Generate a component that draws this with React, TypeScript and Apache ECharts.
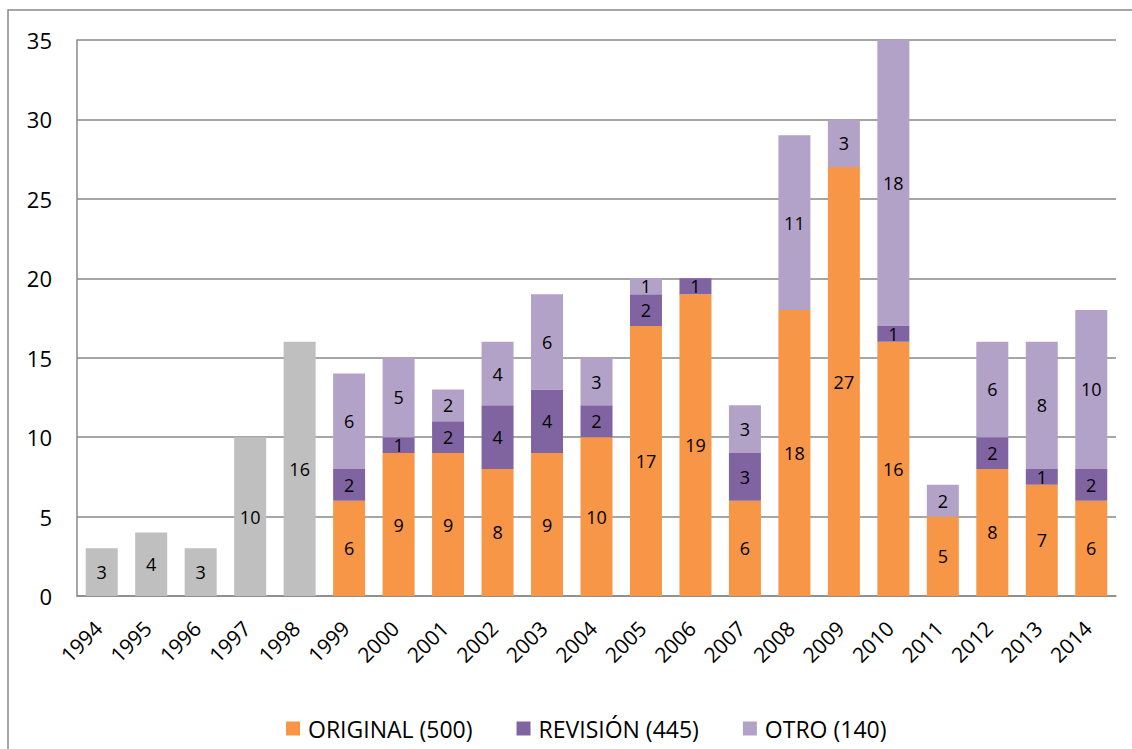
import React, { useEffect, useRef } from "react";
import * as echarts from "echarts";

const years = ["1994","1995","1996","1997","1998","1999","2000","2001","2002","2003","2004","2005","2006","2007","2008","2009","2010","2011","2012","2013","2014"];
const early = [3, 4, 3, 10, 16, null, null, null, null, null, null, null, null, null, null, null, null, null, null, null, null];
const original = [null, null, null, null, null, 6, 9, 9, 8, 9, 10, 17, 19, 6, 18, 27, 16, 5, 8, 7, 6];
const revision = [null, null, null, null, null, 2, 1, 2, 4, 4, 2, 2, 1, 3, 0, 0, 1, 0, 2, 1, 2];
const otro = [null, null, null, null, null, 6, 5, 2, 4, 6, 3, 1, 0, 3, 11, 3, 18, 2, 6, 8, 10];
const yTicks = { min: 0, max: 35, interval: 5 };
const legendNames = ["ORIGINAL (500)", "REVISIÓN (445)", "OTRO (140)"];

const FONT = "Open Sans";

export default function App() {
  const ref = useRef<HTMLDivElement>(null);
  useEffect(() => {
    const chart = echarts.init(ref.current!, null, { renderer: "svg" });
    const label = {
      show: true,
      position: "inside" as const,
      color: "#000",
      fontSize: 18,
      fontFamily: FONT,
      formatter: (p: any) => (p.value ? String(p.value) : ""),
    };
    const mk = (name: string, data: any[], color: string) => ({
      name,
      type: "bar" as const,
      stack: "s",
      data,
      barWidth: 32,
      itemStyle: { color },
      label,
    });
    chart.setOption({
      animation: false,
      backgroundColor: "#fff",
      graphic: [
        {
          type: "rect",
          shape: { x: 8, y: 10, width: 1200, height: 800 },
          style: { fill: "none", stroke: "#898989", lineWidth: 1.5 },
          silent: true,
          z: -1,
        },
      ],
      grid: { left: 77, right: 16, top: 40, bottom: 153 },
      legend: {
        data: legendNames,
        top: 712,
        left: 281,
        icon: "rect",
        itemWidth: 14,
        itemHeight: 14,
        itemGap: 44,
        textStyle: { fontSize: 23, fontFamily: FONT, color: "#000", padding: [0, 0, 0, 3] },
      },
      xAxis: {
        type: "category",
        data: years,
        axisLine: { show: true, lineStyle: { color: "#898989", width: 1.5 } },
        axisTick: { show: false },
        axisLabel: {
          rotate: 45,
          fontSize: 21,
          fontFamily: FONT,
          color: "#000",
          margin: 25,
          padding: [0, 5, 0, 0],
          interval: 0,
        },
      },
      yAxis: {
        type: "value",
        min: yTicks.min,
        max: yTicks.max,
        interval: yTicks.interval,
        axisLine: { show: true, lineStyle: { color: "#898989", width: 1.5 } },
        axisTick: { show: false },
        splitLine: { lineStyle: { color: "#898989", width: 1.5 } },
        axisLabel: { fontSize: 22, fontFamily: FONT, color: "#000", margin: 25 },
      },
      series: [
        mk("early", early, "#BFBFBF"),
        mk(legendNames[0], original, "#F79646"),
        mk(legendNames[1], revision, "#8064A2"),
        mk(legendNames[2], otro, "#B3A2C7"),
      ],
    });
    return () => chart.dispose();
  }, []);
  return (
    <div
      ref={ref}
      style={{ position: "fixed", left: 0, top: 0, width: 1132, height: 749 }}
    />
  );
}
